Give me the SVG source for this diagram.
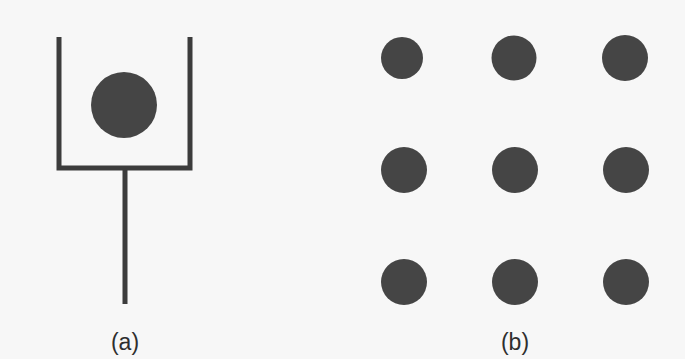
<svg xmlns="http://www.w3.org/2000/svg" width="685" height="359" viewBox="0 0 685 359">
<style>
.ln{fill:none;stroke:#3c3c3c;stroke-width:5;stroke-linecap:butt;stroke-linejoin:miter}
.dot{fill:#454545}
.lbl{font-family:"Liberation Sans",Arial,sans-serif;font-size:23px;fill:#2e2e2e;text-anchor:middle}
</style>
<rect width="685" height="359" fill="#f7f7f7"/>
<g id="cup">
<path class="ln" d="M59,37 V168 H190 V37"/>
<circle class="dot" cx="124" cy="105" r="33"/>
</g>
<g id="connectors">
<path class="ln" d="M125,168 V304"/>
</g>
<g id="label-a"><text class="lbl" x="125" y="350">(a)</text></g>
<g id="dots">
<g id="d11"><circle class="dot" cx="402" cy="58" r="21"/></g>
<g id="d12"><circle class="dot" cx="514" cy="58" r="22.5"/></g>
<g id="d13"><circle class="dot" cx="625" cy="58" r="23"/></g>
<g id="d21"><circle class="dot" cx="404" cy="170" r="23"/></g>
<g id="d22"><circle class="dot" cx="515" cy="170" r="23"/></g>
<g id="d23"><circle class="dot" cx="626" cy="170" r="23"/></g>
<g id="d31"><circle class="dot" cx="404" cy="282" r="23"/></g>
<g id="d32"><circle class="dot" cx="515" cy="282" r="23"/></g>
<g id="d33"><circle class="dot" cx="626" cy="282" r="23"/></g>
</g>
<g id="label-b"><text class="lbl" x="515" y="350">(b)</text></g>
</svg>
